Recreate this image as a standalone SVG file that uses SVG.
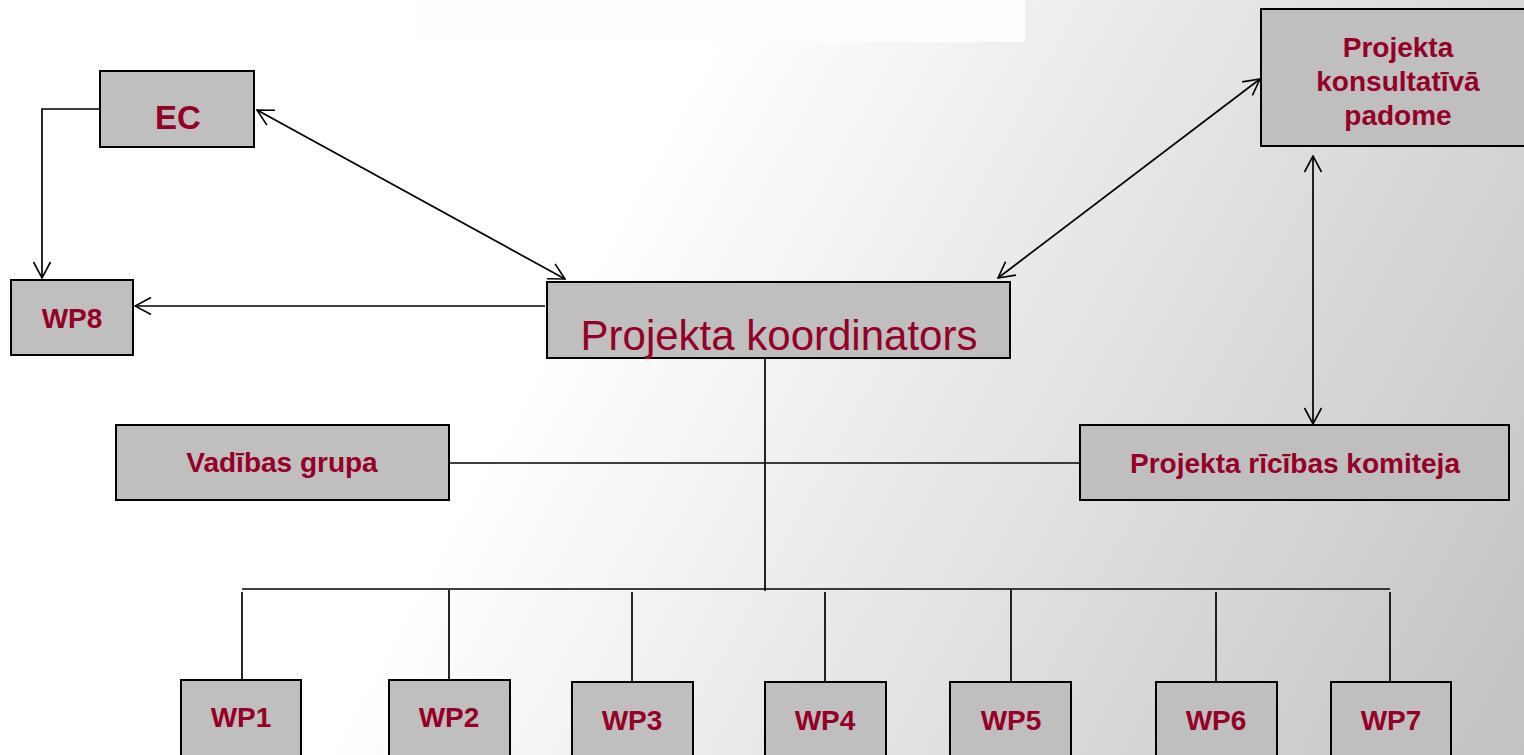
<svg xmlns="http://www.w3.org/2000/svg" width="1524" height="755" viewBox="0 0 1524 755">
<defs>
<linearGradient id="bg" gradientUnits="userSpaceOnUse" x1="600" y1="250" x2="1524" y2="755">
<stop offset="0" stop-color="#ffffff"/>
<stop offset="1" stop-color="#c2c2c2"/>
</linearGradient>
<marker id="arr" viewBox="0 0 18 20" refX="17" refY="10" markerWidth="18" markerHeight="20" markerUnits="userSpaceOnUse" orient="auto-start-reverse">
<path d="M1,1.5 L17,10 L1,18.5" fill="none" stroke="#000" stroke-width="1.6"/>
</marker>
<style>
.box{fill:#bfbfbf;stroke:#000;stroke-width:2}
.t{font-family:"Liberation Sans",Arial,sans-serif;fill:#950026;text-anchor:middle;font-weight:bold}
.n{font-weight:normal}
.c{fill:none;stroke:#000;stroke-width:1.7}
</style>
</defs>
<rect width="1524" height="755" fill="url(#bg)"/>
<rect x="420" y="0" width="605" height="42" fill="#fdfdfd"/>
<g id="connectors">
<path class="c" d="M100,109 H42 V278" marker-end="url(#arr)"/>
<path class="c" d="M545,306 H135" marker-end="url(#arr)"/>
<path class="c" d="M257,110 L565,279" marker-start="url(#arr)" marker-end="url(#arr)"/>
<path class="c" d="M998,278 L1260,79" marker-start="url(#arr)" marker-end="url(#arr)"/>
<path class="c" d="M1313,156 V424" marker-start="url(#arr)" marker-end="url(#arr)"/>
<path class="c" d="M449,463 H1080"/>
<path class="c" d="M765,357 V591"/>
<path class="c" d="M242,589 H1390"/>
<path class="c" d="M242,592 V680 M449,590 V680 M632,592 V682 M825,592 V682 M1011,590 V682 M1216,592 V682 M1390,592 V682"/>
</g>
<g id="ec"><rect class="box" x="100" y="71" width="154" height="76"/><text class="t" x="178" y="129" font-size="33">EC</text></g>
<g id="wp8"><rect class="box" x="11" y="280" width="122" height="75"/><text class="t" x="72" y="328" font-size="28">WP8</text></g>
<g id="koordinators"><rect class="box" x="547" y="282" width="463" height="76"/><text class="t n" x="779" y="350" font-size="42">Projekta koordinators</text></g>
<g id="padome"><rect class="box" x="1261" y="9" width="275" height="137"/>
<text class="t" x="1398" y="57" font-size="28">Projekta</text>
<text class="t" x="1398" y="91" font-size="28">konsultatīvā</text>
<text class="t" x="1398" y="125" font-size="28">padome</text></g>
<g id="vadibas"><rect class="box" x="116" y="425" width="333" height="75"/><text class="t" x="282" y="472" font-size="28">Vadības grupa</text></g>
<g id="komiteja"><rect class="box" x="1080" y="425" width="429" height="75"/><text class="t" x="1295" y="473" font-size="28">Projekta rīcības komiteja</text></g>
<g id="wp1"><rect class="box" x="181" y="680" width="120" height="80"/><text class="t" x="241" y="727" font-size="28">WP1</text></g>
<g id="wp2"><rect class="box" x="389" y="680" width="121" height="80"/><text class="t" x="449" y="727" font-size="28">WP2</text></g>
<g id="wp3"><rect class="box" x="572" y="682" width="121" height="80"/><text class="t" x="632" y="730" font-size="28">WP3</text></g>
<g id="wp4"><rect class="box" x="765" y="682" width="121" height="80"/><text class="t" x="825" y="730" font-size="28">WP4</text></g>
<g id="wp5"><rect class="box" x="950" y="682" width="121" height="80"/><text class="t" x="1011" y="730" font-size="28">WP5</text></g>
<g id="wp6"><rect class="box" x="1156" y="682" width="121" height="80"/><text class="t" x="1216" y="730" font-size="28">WP6</text></g>
<g id="wp7"><rect class="box" x="1331" y="682" width="120" height="80"/><text class="t" x="1391" y="730" font-size="28">WP7</text></g>
</svg>
